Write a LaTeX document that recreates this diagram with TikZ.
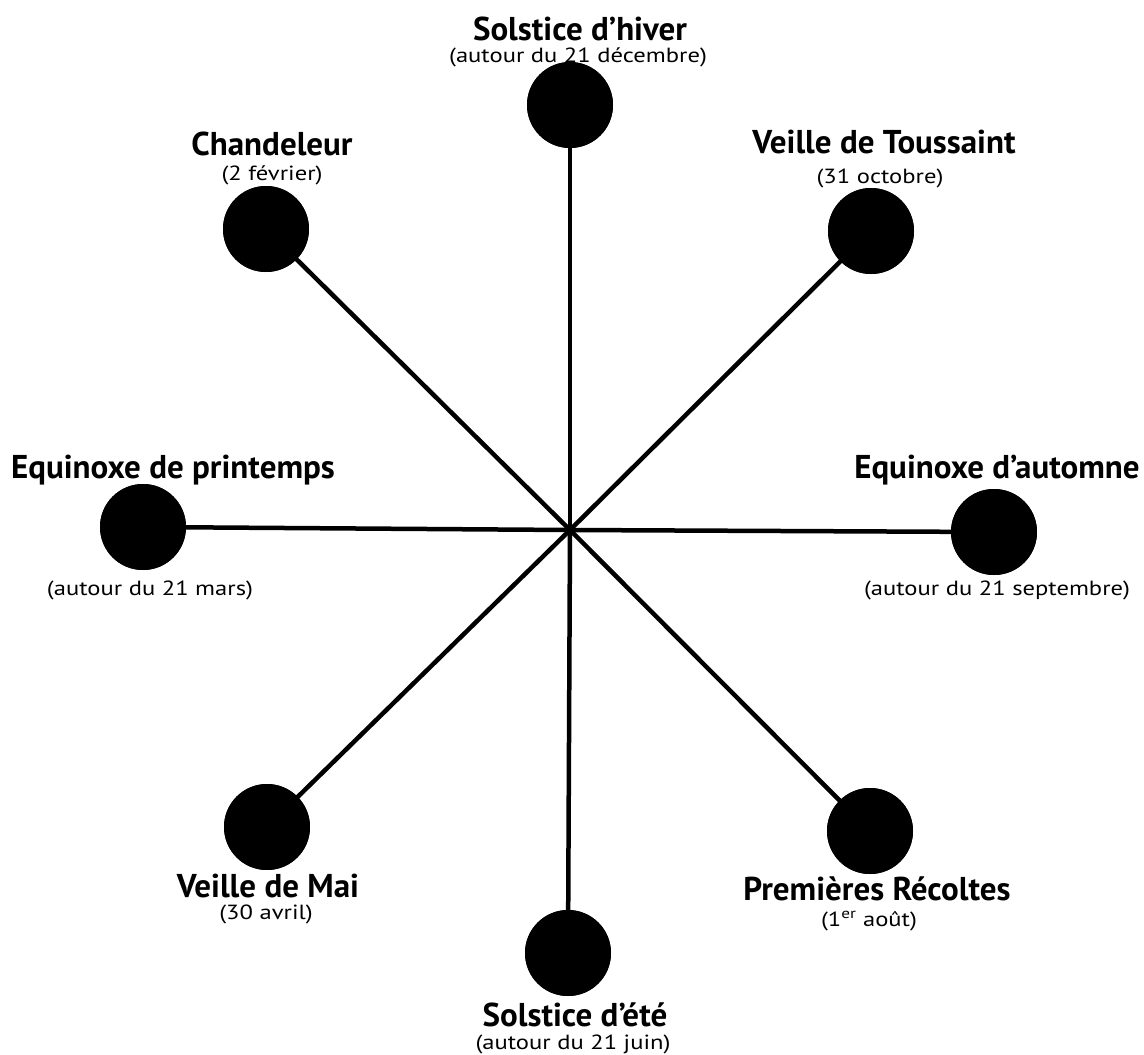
\documentclass[tikz,border=0pt]{standalone}
\usepackage{graphicx}
\usepackage{fontspec}
\setmainfont{PT Sans}
\newcommand{\subtxt}[1]{\scalebox{1.2}[1]{#1}}
\begin{document}
\begin{tikzpicture}[x=1pt,y=-1pt,
  dot/.style={circle,fill=black,minimum size=86pt,inner sep=0pt},
  spoke/.style={line width=4.5pt},
  ttl/.style={anchor=base,inner sep=0pt,font=\fontsize{33}{35}\selectfont\bfseries},
  sub/.style={anchor=base,inner sep=0pt,font=\fontsize{20.5}{22}\selectfont}]
\useasboundingbox (0,0) rectangle (1144,1055);
\coordinate (c) at (570,530);
\node[dot] (n) at (570,105) {};
\node[dot] (nw) at (266,229) {};
\node[dot] (ne) at (871,231) {};
\node[dot] (w) at (143,527) {};
\node[dot] (e) at (994,532) {};
\node[dot] (sw) at (267,827) {};
\node[dot] (se) at (870,831) {};
\node[dot] (s) at (568,953) {};
\foreach \k in {n,nw,ne,w,e,sw,se,s} \draw[spoke] (c) -- (\k.center);
\foreach \k in {n,nw,ne,w,e,sw,se,s} \node[dot] at (\k) {};
\node[ttl] (t1) at (580,40) {Solstice d’hiver};
\node[sub] (s1) at (578,62) {\subtxt{(autour du 21 décembre)}};
\node[ttl] (t2) at (272,155) {Chandeleur};
\node[sub] (s2) at (272,180) {\subtxt{(2 février)}};
\node[ttl] (t3) at (884,153) {Veille de Toussaint};
\node[sub] (s3) at (880,183) {\subtxt{(31 octobre)}};
\node[ttl] (t4) at (173,478) {Equinoxe de printemps};
\node[sub] (s4) at (150,595) {\subtxt{(autour du 21 mars)}};
\node[ttl] (t5) at (997,478) {Equinoxe d’automne};
\node[sub] (s5) at (997,595) {\subtxt{(autour du 21 septembre)}};
\node[ttl] (t6) at (268,897) {Veille de Mai};
\node[sub] (s6) at (266,919) {\subtxt{(30 avril)}};
\node[ttl] (t7) at (877,900) {Premières Récoltes};
\node[sub] (s7) at (869,926) {\subtxt{(1\textsuperscript{er} août)}};
\node[ttl] (t8) at (575,1026) {Solstice d’été};
\node[sub] (s8) at (573,1049) {\subtxt{(autour du 21 juin)}};
\end{tikzpicture}
\end{document}
